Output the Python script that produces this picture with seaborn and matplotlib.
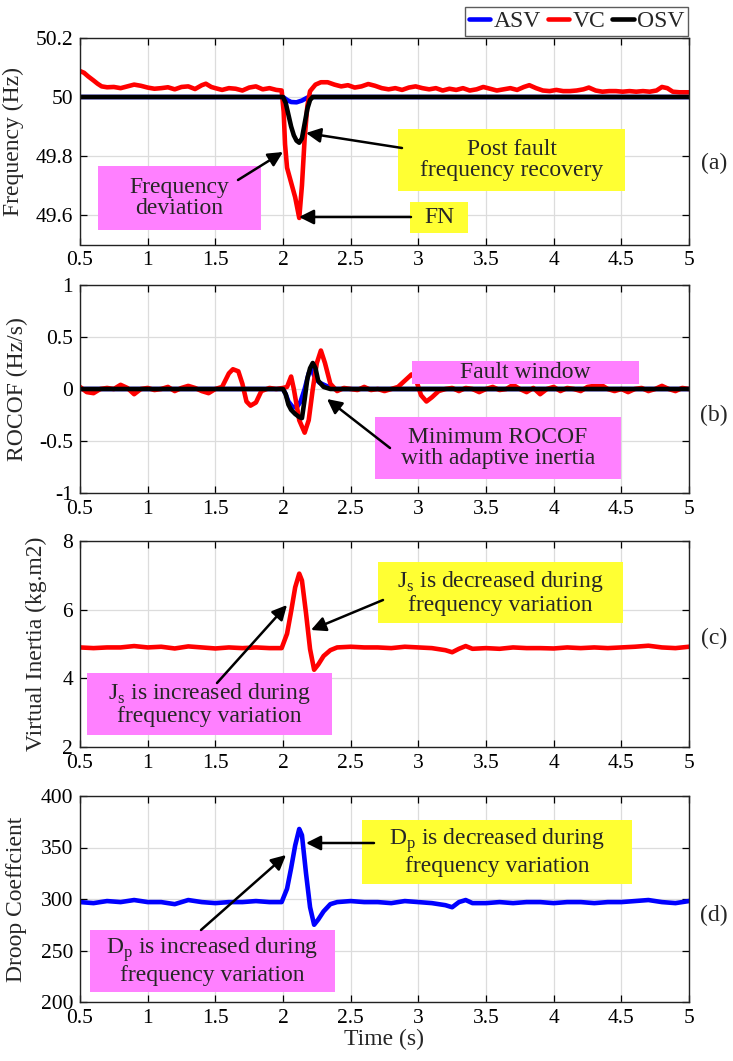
import matplotlib
matplotlib.use("Agg")
import matplotlib.pyplot as plt
from matplotlib.patches import Rectangle
import seaborn as sns
import pandas as pd

# ---------------- data ----------------
# (a) Frequency (Hz)
t_freq_vc = [0.5, 0.53, 0.56, 0.6, 0.63, 0.66, 0.7, 0.75, 0.8, 0.85, 0.9, 0.95, 1.0, 1.05, 1.1, 1.15,
             1.2, 1.25, 1.3, 1.35, 1.4, 1.43, 1.47, 1.5, 1.55, 1.6, 1.65, 1.7, 1.75, 1.8, 1.85, 1.9,
             1.95, 1.99, 2.005, 2.015, 2.03, 2.06, 2.09, 2.12, 2.14, 2.16, 2.18, 2.2, 2.24, 2.28,
             2.33, 2.38, 2.43, 2.48, 2.53, 2.58, 2.63, 2.68, 2.73, 2.78, 2.83, 2.88, 2.93, 2.98,
             3.03, 3.08, 3.13, 3.18, 3.23, 3.28, 3.33, 3.38, 3.43, 3.48, 3.53, 3.58, 3.63, 3.68,
             3.73, 3.78, 3.82, 3.87, 3.92, 3.97, 4.02, 4.07, 4.12, 4.17, 4.22, 4.26, 4.31, 4.36,
             4.41, 4.46, 4.51, 4.56, 4.61, 4.66, 4.71, 4.76, 4.8, 4.84, 4.88, 4.93, 5.0]
freq_vc = [50.088, 50.082, 50.07, 50.056, 50.045, 50.036, 50.033, 50.034, 50.03, 50.036, 50.042,
           50.038, 50.032, 50.028, 50.03, 50.033, 50.026, 50.034, 50.036, 50.027, 50.04, 50.045,
           50.034, 50.03, 50.024, 50.03, 50.028, 50.022, 50.032, 50.036, 50.026, 50.03, 50.024,
           50.022, 49.95, 49.84, 49.76, 49.71, 49.66, 49.59, 49.7, 49.86, 49.97, 50.02, 50.042,
           50.05, 50.05, 50.042, 50.036, 50.04, 50.032, 50.036, 50.044, 50.038, 50.03, 50.026,
           50.03, 50.024, 50.032, 50.036, 50.03, 50.026, 50.03, 50.022, 50.028, 50.024, 50.03,
           50.022, 50.026, 50.034, 50.028, 50.022, 50.026, 50.03, 50.024, 50.034, 50.04, 50.03,
           50.022, 50.02, 50.024, 50.02, 50.02, 50.022, 50.026, 50.032, 50.022, 50.018, 50.02,
           50.02, 50.018, 50.02, 50.018, 50.02, 50.018, 50.022, 50.034, 50.03, 50.018, 50.016,
           50.016]
t_freq_osv = [0.5, 2.0, 2.02, 2.04, 2.06, 2.08, 2.1, 2.12, 2.14, 2.16, 2.18, 2.2, 2.22, 5.0]
freq_osv = [50.0, 50.0, 49.98, 49.94, 49.9, 49.87, 49.852, 49.845, 49.86, 49.91, 49.96, 49.99,
            50.0, 50.0]
t_freq_asv = [0.5, 2.0, 2.03, 2.06, 2.1, 2.14, 2.18, 2.2, 5.0]
freq_asv = [50.0, 50.0, 49.99, 49.983, 49.982, 49.988, 49.998, 50.0, 50.0]

# (b) ROCOF (Hz/s)
t_rocof_vc = [0.5, 0.55, 0.6, 0.65, 0.7, 0.75, 0.8, 0.85, 0.9, 0.95, 1.0, 1.05, 1.1, 1.15, 1.2,
              1.25, 1.3, 1.35, 1.4, 1.45, 1.5, 1.55, 1.6, 1.63, 1.67, 1.7, 1.73, 1.76, 1.8, 1.84,
              1.9, 1.95, 2.0, 2.03, 2.06, 2.08, 2.12, 2.16, 2.19, 2.22, 2.25, 2.28, 2.31, 2.35,
              2.4, 2.45, 2.5, 2.55, 2.6, 2.65, 2.7, 2.75, 2.8, 2.85, 2.9, 2.95, 2.98, 3.02, 3.06,
              3.1, 3.15, 3.2, 3.25, 3.3, 3.35, 3.4, 3.45, 3.5, 3.55, 3.6, 3.65, 3.7, 3.75, 3.8,
              3.85, 3.9, 3.95, 4.0, 4.05, 4.1, 4.15, 4.2, 4.25, 4.3, 4.35, 4.4, 4.45, 4.5, 4.55,
              4.6, 4.65, 4.7, 4.75, 4.8, 4.85, 4.9, 4.95, 5.0]
rocof_vc = [0.02, -0.03, -0.04, 0.0, 0.01, 0.0, 0.04, 0.01, -0.05, 0.0, 0.01, -0.01, 0.0, 0.02,
            -0.02, 0.01, 0.03, 0.01, -0.02, -0.04, 0.0, 0.02, 0.15, 0.19, 0.17, 0.05, -0.12,
            -0.16, -0.13, -0.02, 0.01, 0.0, 0.01, 0.02, 0.12, 0.0, -0.3, -0.42, -0.3, 0.0, 0.25,
            0.37, 0.25, 0.05, -0.02, 0.01, 0.0, -0.01, 0.02, -0.01, 0.0, -0.02, 0.0, 0.02, 0.08,
            0.14, 0.1, -0.06, -0.12, -0.08, -0.02, 0.0, 0.01, -0.02, 0.01, 0.0, -0.03, 0.0, 0.02,
            -0.01, 0.0, 0.04, 0.0, -0.03, 0.01, -0.05, 0.0, 0.02, -0.02, 0.01, 0.0, -0.02, 0.02,
            0.03, 0.04, 0.0, -0.02, 0.0, -0.03, 0.0, 0.01, -0.02, 0.0, 0.03, 0.0, -0.02, 0.01, 0.0]
t_rocof_osv = [0.5, 2.0, 2.02, 2.04, 2.06, 2.09, 2.12, 2.14, 2.16, 2.18, 2.2, 2.22, 2.24, 2.26,
               2.3, 2.35, 5.0]
rocof_osv = [0.0, 0.0, -0.05, -0.15, -0.2, -0.24, -0.27, -0.28, -0.1, 0.1, 0.2, 0.25, 0.2, 0.08,
             0.02, 0.0, 0.0]
t_rocof_asv = [0.5, 2.0, 2.02, 2.04, 2.07, 2.1, 2.13, 2.16, 2.19, 2.21, 2.24, 2.27, 2.32, 2.38, 5.0]
rocof_asv = [0.0, 0.0, -0.05, -0.12, -0.17, -0.18, -0.12, 0.0, 0.15, 0.19, 0.1, 0.06, 0.03, 0.0,
             0.0]

# (c) Virtual inertia (VC) and (d) droop coefficient (ASV)
t_adapt = [0.5, 0.6, 0.7, 0.8, 0.9, 1.0, 1.1, 1.2, 1.3, 1.4, 1.5, 1.6, 1.7, 1.8, 1.9, 1.99, 2.03,
           2.06, 2.09, 2.12, 2.14, 2.17, 2.2, 2.23, 2.26, 2.3, 2.35, 2.4, 2.5, 2.6, 2.7, 2.8, 2.9,
           3.0, 3.1, 3.2, 3.25, 3.3, 3.35, 3.4, 3.5, 3.6, 3.7, 3.8, 3.9, 4.0, 4.1, 4.2, 4.3, 4.4,
           4.5, 4.6, 4.7, 4.8, 4.9, 5.0]
inertia_vc = [4.9, 4.88, 4.9, 4.9, 4.94, 4.9, 4.92, 4.87, 4.93, 4.9, 4.87, 4.9, 4.88, 4.9, 4.88,
              4.88, 5.3, 5.95, 6.65, 7.05, 6.85, 5.9, 4.85, 4.25, 4.4, 4.65, 4.82, 4.9, 4.92, 4.9,
              4.9, 4.88, 4.92, 4.9, 4.88, 4.82, 4.76, 4.86, 4.94, 4.86, 4.88, 4.86, 4.9, 4.88,
              4.88, 4.87, 4.9, 4.88, 4.9, 4.88, 4.9, 4.92, 4.95, 4.9, 4.88, 4.92]
droop_asv = [297, 296, 298, 297, 299, 297, 297, 295, 299, 297, 296, 297, 297, 298, 297, 297, 310,
             330, 352, 368, 362, 325, 292, 275, 280, 288, 295, 297, 298, 297, 297, 296, 298, 297,
             296, 294, 292, 297, 299, 296, 296, 297, 296, 297, 297, 296, 297, 297, 296, 297, 297,
             298, 299, 297, 296, 298]

x_ticks = [0.5, 1, 1.5, 2, 2.5, 3, 3.5, 4, 4.5, 5]
x_tick_labels = ["0.5", "1", "1.5", "2", "2.5", "3", "3.5", "4", "4.5", "5"]
yt_a = [49.6, 49.8, 50, 50.2]; ytl_a = ["49.6", "49.8", "50", "50.2"]
yt_b = [-1, -0.5, 0, 0.5, 1]; ytl_b = ["-1", "-0.5", "0", "0.5", "1"]
yt_c = [2, 4, 6, 8]; ytl_c = ["2", "4", "6", "8"]
yt_d = [200, 250, 300, 350, 400]; ytl_d = ["200", "250", "300", "350", "400"]

# ---------------- style ----------------
sns.set_style("ticks")
plt.rcParams["font.family"] = ["Liberation Serif", "DejaVu Serif"]
plt.rcParams["mathtext.fontset"] = "custom"
plt.rcParams["mathtext.rm"] = "Liberation Serif"

BLUE, RED, BLACK = "#0000ff", "#ff0000", "#000000"
MAG, YEL = "#ff80ff", "#ffff33"
LW = 3.3

W, H = 733, 1061
fig = plt.figure(figsize=(W / 100, H / 100), dpi=100)


def rect(top, bottom):
    return [80 / W, 1 - bottom / H, 609 / W, (bottom - top) / H]


def fp(x, y):
    return (x / W, 1 - y / H)


ax_a = fig.add_axes(rect(38, 244.5))
ax_b = fig.add_axes(rect(285, 493))
ax_c = fig.add_axes(rect(541, 747))
ax_d = fig.add_axes(rect(796, 1002))


def line(ax, x, y, color, label=None):
    sns.lineplot(x=x, y=y, ax=ax, color=color, lw=LW, estimator=None, sort=False,
                 label=label, legend=False)


line(ax_a, t_freq_asv, freq_asv, BLUE, "ASV")
line(ax_a, t_freq_vc, freq_vc, RED, "VC")
line(ax_a, t_freq_osv, freq_osv, BLACK, "OSV")

line(ax_b, t_rocof_asv, rocof_asv, BLUE)
line(ax_b, t_rocof_vc, rocof_vc, RED)
line(ax_b, t_rocof_osv, rocof_osv, BLACK)

line(ax_c, t_adapt, inertia_vc, RED)
line(ax_d, t_adapt, droop_asv, BLUE)

setup = [
    (ax_a, (49.5, 50.2), yt_a, ytl_a, "Frequency (Hz)", 24),
    (ax_b, (-1, 1), yt_b, ytl_b, "ROCOF (Hz/s)", 28),
    (ax_c, (2, 8), yt_c, ytl_c, "Virtual Inertia (kg.m2)", 47),
    (ax_d, (200, 400), yt_d, ytl_d, "Droop Coeffcient", 27),
]
for ax, ylim, yt, ytl, ylab, lx in setup:
    ax.set_xlim(0.5, 5)
    ax.set_ylim(*ylim)
    ax.set_xticks(x_ticks, x_tick_labels)
    ax.set_yticks(yt, ytl)
    ax.grid(True, color="#dcdcdc", lw=0.9)
    ax.set_axisbelow(True)
    ax.tick_params(direction="in", top=True, right=True, length=5, width=0.9,
                   labelsize=15.5, colors="black")
    ax.tick_params(axis="x", pad=5)
    ax.tick_params(axis="y", pad=5)
    for s in ax.spines.values():
        s.set_visible(True)
        s.set_color("#222222")
        s.set_linewidth(1.0)
    ax.set_xlabel("")
    ax.set_ylabel(ylab, fontsize=17)
    ax.yaxis.set_label_coords((lx - 80) / 609, 0.5)

ax_d.set_xlabel("Time (s)", fontsize=17, labelpad=1)

# legend
handles, labels = ax_a.get_legend_handles_labels()
leg = fig.legend(handles, labels, loc="lower right", bbox_to_anchor=fp(688, 36), ncol=3,
                 fontsize=17, frameon=True, fancybox=False, handlelength=0.9,
                 handletextpad=0.15, columnspacing=0.3, borderpad=0.15, borderaxespad=0)
leg.get_frame().set_edgecolor("#333333")
leg.get_frame().set_linewidth(1.0)

# panel labels
for lab, yy in [("(a)", 163), ("(b)", 415), ("(c)", 638), ("(d)", 915)]:
    fig.text(*fp(714, yy), lab, ha="center", va="center", fontsize=17)


def box(ax, x0, y0, x1, y1, color, text, fs=17):
    ax.add_patch(Rectangle(fp(x0, y1), (x1 - x0) / W, (y1 - y0) / H,
                           transform=fig.transFigure, fc=color, ec="none", zorder=5,
                           clip_on=False))
    ax.text(*fp((x0 + x1) / 2, (y0 + y1) / 2), text, transform=fig.transFigure,
            ha="center", va="center", fontsize=fs, zorder=6, linespacing=1.05)


def arrow(ax, tail, head):
    ax.annotate("", xy=fp(*head), xytext=fp(*tail), xycoords="figure fraction",
                textcoords="figure fraction", zorder=7,
                arrowprops=dict(arrowstyle="-|>", color="black", lw=1.8,
                                mutation_scale=22, shrinkA=0, shrinkB=0))


box(ax_a, 98, 166, 261, 230, MAG, "Frequency\ndeviation")
box(ax_a, 398, 129, 625, 191, YEL, "Post fault\nfrequency recovery")
box(ax_a, 410, 202, 468, 233, YEL, "FN")
arrow(ax_a, (238, 180), (283, 152))
arrow(ax_a, (402, 148), (306, 133))
arrow(ax_a, (411, 217), (299, 217))

box(ax_b, 412, 361, 639, 384, MAG, "Fault window")
box(ax_b, 375, 417, 621, 479, MAG, "Minimum ROCOF\nwith adaptive inertia")
arrow(ax_b, (390, 448), (327, 399))

box(ax_c, 378, 562, 623, 623, YEL, "J$_\\mathrm{s}$ is decreased during\nfrequency variation")
box(ax_c, 87, 673, 332, 735, MAG, "J$_\\mathrm{s}$ is increased during\nfrequency variation")
arrow(ax_c, (383, 600), (311, 630))
arrow(ax_c, (217, 683), (287, 605))

box(ax_d, 362, 820, 632, 884, YEL, "D$_\\mathrm{p}$ is decreased during\nfrequency variation")
box(ax_d, 90, 930, 335, 992, MAG, "D$_\\mathrm{p}$ is increased during\nfrequency variation")
arrow(ax_d, (374, 843), (306, 843))
arrow(ax_d, (201, 930), (286, 855))

fig.savefig("out.png", dpi=100)
